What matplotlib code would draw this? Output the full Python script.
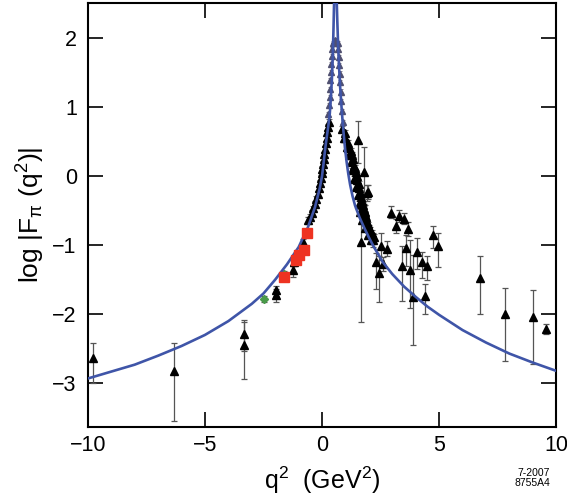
import numpy as np
import matplotlib
matplotlib.use('Agg')
from matplotlib import pyplot as plt

plt.rcParams['font.family'] = ['Liberation Sans', 'DejaVu Sans']
plt.rcParams['mathtext.fontset'] = 'custom'
plt.rcParams['mathtext.rm'] = 'Liberation Sans'
plt.rcParams['mathtext.it'] = 'Liberation Sans:italic'

# model curve
curve_x = [-10.0, -9.0, -8.0, -7.0, -6.0, -5.0, -4.0, -3.0, -2.5, -2.0, -1.5, -1.0,
           -0.6, -0.3, -0.1, 0.0, 0.06, 0.13, 0.20, 0.27, 0.33, 0.38, 0.42, 0.46,
           0.49, 0.52, 0.55, 0.60, 0.62, 0.65, 0.69, 0.73, 0.77, 0.82, 0.87, 0.92,
           0.98, 1.05, 1.12, 1.2, 1.3, 1.41, 1.6, 1.8, 2.0, 2.2, 2.6, 3.0, 3.5,
           4.0, 4.5, 5.0, 6.0, 7.0, 8.0, 9.0, 10.0]
curve_y = [-2.93, -2.83, -2.73, -2.60, -2.46, -2.30, -2.10, -1.85, -1.70, -1.50, -1.28, -1.03,
           -0.74, -0.45, -0.18, 0.0, 0.17, 0.38, 0.56, 0.73, 0.90, 1.15, 1.40, 1.75,
           2.15, 2.60, 3.00, 3.00, 2.60, 2.25, 1.85, 1.55, 1.30, 1.05, 0.82, 0.62,
           0.40, 0.20, 0.03, -0.13, -0.29, -0.43, -0.60, -0.75, -0.89, -1.02, -1.25, -1.42, -1.60,
           -1.75, -1.89, -2.01, -2.23, -2.41, -2.57, -2.70, -2.82]

# black triangles with visible error bars
tri_x = [-9.79, -6.32, -3.33, -3.35, -1.97, -1.97, -1.24, -1.20, -0.81, -0.60,
         1.55, 1.77, 1.91, 1.97, 1.84, 2.17, 1.67,
         2.31, 2.45, 2.52, 2.62, 2.79, 2.95, 3.15, 3.29, 3.48, 3.66, 3.41, 3.59,
         3.76, 3.87, 4.07, 4.26, 4.47, 4.40, 4.72, 4.93, 6.75, 7.82, 8.99, 9.57]
tri_y = [-2.64, -2.82, -2.28, -2.45, -1.65, -1.72, -1.36, -1.25, -0.96, -0.64,
         0.52, 0.05, -0.25, -0.23, -0.52, -0.93, -0.95,
         -1.25, -1.40, -1.01, -1.27, -1.06, -0.54, -0.73, -0.58, -0.62, -0.77, -1.31, -1.05,
         -1.36, -1.75, -1.10, -1.25, -1.31, -1.74, -0.86, -1.02, -1.47, -2.00, -2.04, -2.21]
tri_lo = [0.36, 0.73, 0.25, 0.49, 0.08, 0.10, 0.10, 0.06, 0.05, 0.05,
          0.33, 0.45, 0.12, 0.10, 0.10, 0.10, 1.16,
          0.39, 0.42, 0.21, 0.10, 0.10, 0.07, 0.10, 0.08, 0.08, 0.10, 0.50, 0.25,
          0.55, 0.70, 0.25, 0.22, 0.20, 0.26, 0.18, 0.30, 0.53, 0.67, 0.68, 0.07]
tri_hi = [0.22, 0.40, 0.19, 0.33, 0.06, 0.08, 0.06, 0.06, 0.05, 0.05,
          0.28, 0.37, 0.12, 0.10, 0.10, 0.10, 0.60,
          0.13, 0.24, 0.18, 0.10, 0.12, 0.10, 0.10, 0.08, 0.08, 0.10, 0.29, 0.20,
          0.43, 0.60, 0.20, 0.15, 0.15, 0.17, 0.14, 0.20, 0.31, 0.38, 0.39, 0.07]

# dense timelike / near-zero data (small errors)
dense_x = [-0.51, -0.45, -0.38, -0.30, -0.24, -0.19, -0.14, -0.10, -0.06, -0.02,
           0.01, 0.04, 0.07, 0.10, 0.13, 0.16, 0.19, 0.22, 0.25, 0.28,
           0.86, 0.95, 1.05, 1.15, 1.22, 1.30, 1.38, 1.45, 1.52, 1.58, 1.64, 1.72, 1.84, 1.98, 2.10,
           0.98, 1.10, 1.22, 1.32, 1.40, 1.48, 1.56, 1.63, 1.70, 1.78, 1.86, 1.95, 2.05,
           1.00, 1.12, 1.26, 1.35, 1.43, 1.50, 1.58, 1.66, 1.74, 1.82, 1.90, 2.00, 2.15, 2.22]
dense_y = [-0.59, -0.54, -0.47, -0.40, -0.33, -0.26, -0.18, -0.10, -0.03, 0.04,
           0.10, 0.17, 0.24, 0.31, 0.39, 0.47, 0.55, 0.63, 0.71, 0.78,
           0.68, 0.55, 0.42, 0.30, 0.20, 0.08, -0.04, -0.16, -0.28, -0.40, -0.52, -0.64, -0.76, -0.86, -0.92,
           0.62, 0.48, 0.36, 0.24, 0.12, 0.00, -0.12, -0.24, -0.36, -0.48, -0.60, -0.70, -0.78,
           0.55, 0.40, 0.30, 0.15, 0.05, -0.06, -0.18, -0.30, -0.42, -0.55, -0.66, -0.75, -0.82, -0.88]

# points around the rho peak
peak_x = [0.26, 0.29, 0.32, 0.34, 0.36, 0.38, 0.40, 0.42, 0.44, 0.46,
          0.50, 0.55, 0.60, 0.66, 0.70, 0.72, 0.74, 0.76, 0.78, 0.80, 0.83, 0.86, 0.90]
peak_y = [0.90, 1.02, 1.14, 1.26, 1.38, 1.50, 1.62, 1.73, 1.84, 1.92,
          1.95, 1.96, 1.95, 1.92, 1.84, 1.72, 1.60, 1.48, 1.36, 1.22, 1.08, 0.94, 0.78]

# red squares and green diamonds
sq_x = [-1.62, -1.10, -0.98, -0.77, -0.63]
sq_y = [-1.46, -1.22, -1.15, -1.07, -0.83]
dia_x = [-2.48, -1.62]
dia_y = [-1.78, -1.42]
dia_err = [0.05, 0.04]

fig = plt.figure(figsize=(5.67, 5.04), dpi=100)
ax = fig.add_axes([0.155, 0.153, 0.826, 0.841])

ax.errorbar(dense_x, dense_y, yerr=0.04, fmt='^', color='black', ms=5.5,
            ecolor='#666666', elinewidth=0.8, capsize=2, capthick=0.8, zorder=2)
ax.errorbar(tri_x, tri_y, yerr=[tri_lo, tri_hi], fmt='^', color='black', ms=6,
            ecolor='#555555', elinewidth=0.9, capsize=2.5, capthick=0.9, zorder=2)
ax.errorbar(peak_x, peak_y, yerr=0.03, fmt='^', color='#505070', ms=4.5,
            ecolor='#8888a0', elinewidth=0.7, capsize=1.5, capthick=0.7, zorder=2)
ax.errorbar(dia_x, dia_y, yerr=dia_err, fmt='D', color='#4a9a4a', ms=4.5,
            ecolor='#555555', elinewidth=0.9, capsize=2.5, capthick=0.9, zorder=3)
ax.plot(curve_x, curve_y, color='#3f55a8', lw=1.9, zorder=4)
ax.plot(sq_x, sq_y, 's', color='#ee3322', ms=7, zorder=5)

ax.set_xlim(-10, 10)
ax.set_ylim(-3.63, 2.5)
ax.set_xticks([-10, -5, 0, 5, 10])
ax.set_yticks([-3, -2, -1, 0, 1, 2])
ax.tick_params(direction='in', length=11, width=1.2, top=True, right=True,
               labelsize=15.5)
ax.tick_params(axis='x', pad=6)
ax.tick_params(axis='y', pad=8)
for s in ax.spines.values():
    s.set_linewidth(1.5)

ax.set_xlabel(r'q$^2$  (GeV$^2$)', fontsize=18, labelpad=6)
ax.set_ylabel(r'log |F$_{\mathrm{\pi}}$ (q$^2$)|', fontsize=19)
ax.yaxis.set_label_coords(-0.088, 0.5)

fig.text(0.97, 0.052, '7-2007\n8755A4', ha='right', va='center', fontsize=7.5,
         linespacing=1.0)

fig.savefig('out.png', dpi=100)
